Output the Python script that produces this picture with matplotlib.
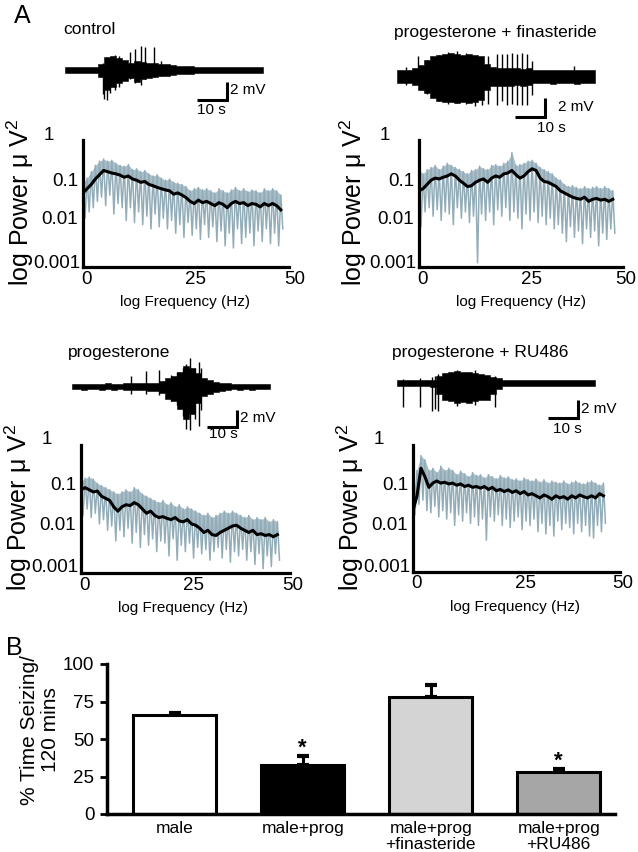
import numpy as np
import matplotlib.pyplot as plt

plt.rcParams['font.family'] = ['Liberation Sans', 'DejaVu Sans']
plt.rcParams['mathtext.fontset'] = 'custom'
plt.rcParams['mathtext.rm'] = 'Liberation Sans'

W, H = 638, 852

# ---- panel A: spectra, log10 power read at 1 Hz steps ----
ctrl_black = [-1.25, -1.15, -1.05, -0.92, -0.82, -0.72, -0.75, -0.78, -0.8, -0.83,
              -0.88, -0.85, -0.92, -0.95, -1.0, -0.98, -1.05, -1.08, -1.12, -1.15,
              -1.18, -1.2, -1.28, -1.25, -1.3, -1.36, -1.45, -1.5, -1.42, -1.48,
              -1.45, -1.5, -1.55, -1.48, -1.52, -1.6, -1.5, -1.45, -1.5, -1.48,
              -1.55, -1.5, -1.52, -1.58, -1.5, -1.55, -1.5, -1.55, -1.65]
ctrl_top = [-1.0, -0.9, -0.75, -0.6, -0.5, -0.45, -0.5, -0.48, -0.55, -0.6,
            -0.62, -0.58, -0.7, -0.68, -0.75, -0.72, -0.8, -0.85, -0.82, -0.9,
            -0.95, -0.92, -1.0, -1.02, -1.05, -1.1, -1.2, -1.15, -1.12, -1.18,
            -1.15, -1.2, -1.25, -1.15, -1.2, -1.25, -1.18, -1.12, -1.2, -1.15,
            -1.22, -1.18, -1.2, -1.25, -1.15, -1.2, -1.15, -1.2, -1.3]
ctrl_dip = [-1.85, -1.7, -1.6, -1.45, -1.35, -1.55, -1.3, -1.75, -1.5, -1.6,
            -1.9, -1.6, -1.95, -1.7, -2.0, -1.8, -2.1, -1.75, -2.05, -1.85,
            -2.1, -1.9, -2.2, -2.0, -2.3, -1.95, -2.25, -2.1, -2.35, -2.0,
            -2.3, -2.05, -2.4, -2.15, -2.5, -2.2, -2.55, -2.1, -2.45, -2.3,
            -2.2, -2.5, -2.15, -2.4, -2.1, -2.45, -2.2, -2.5, -2.1]

fin_black = [-1.2, -1.15, -1.05, -0.95, -0.9, -0.92, -0.88, -0.85, -0.8, -0.85,
             -0.95, -1.02, -1.1, -1.08, -1.0, -0.95, -0.92, -1.0, -0.9, -0.85,
             -0.88, -0.8, -0.78, -0.72, -0.82, -0.9, -0.85, -0.75, -0.68, -0.72,
             -0.9, -0.98, -1.0, -1.05, -1.1, -1.2, -1.25, -1.3, -1.35, -1.38,
             -1.4, -1.35, -1.45, -1.4, -1.38, -1.42, -1.4, -1.45, -1.4]
fin_top = [-0.7, -0.8, -0.7, -0.65, -0.6, -0.7, -0.62, -0.55, -0.6, -0.65,
           -0.7, -0.75, -0.8, -0.72, -0.7, -0.62, -0.68, -0.7, -0.6, -0.58,
           -0.62, -0.55, -0.5, -0.3, -0.6, -0.58, -0.55, -0.5, -0.48, -0.55,
           -0.65, -0.7, -0.75, -0.8, -0.9, -0.95, -1.05, -1.1, -1.08, -1.12,
           -1.15, -1.1, -1.15, -1.12, -1.1, -1.15, -1.1, -1.15, -1.2]
fin_dip = [-2.05, -1.7, -1.6, -1.8, -1.65, -1.9, -1.7, -1.75, -2.0, -1.6,
           -1.85, -1.7, -1.95, -1.8, -2.9, -1.75, -1.9, -1.7, -2.0, -1.65,
           -1.8, -1.6, -1.9, -1.7, -1.85, -2.1, -1.75, -1.9, -1.7, -1.95,
           -1.8, -2.0, -1.85, -2.1, -2.0, -2.2, -2.4, -2.05, -2.3, -2.15,
           -2.45, -2.1, -2.3, -2.15, -2.5, -2.2, -2.35, -2.1, -2.2]

prog_black = [-1.05, -1.0, -1.05, -1.1, -1.08, -1.2, -1.25, -1.3, -1.45, -1.55,
              -1.45, -1.4, -1.42, -1.35, -1.4, -1.5, -1.6, -1.55, -1.65, -1.7,
              -1.68, -1.72, -1.75, -1.7, -1.78, -1.8, -1.75, -1.85, -1.88, -1.95,
              -2.05, -2.0, -2.1, -2.12, -2.05, -2.0, -1.95, -1.9, -1.88, -1.95,
              -2.0, -2.05, -2.0, -2.1, -2.08, -2.12, -2.1, -2.15, -2.1]
prog_top = [-0.85, -0.78, -0.75, -0.8, -0.9, -0.95, -1.0, -1.05, -1.1, -1.15,
            -1.1, -1.05, -1.1, -1.0, -1.05, -1.15, -1.2, -1.25, -1.3, -1.35,
            -1.3, -1.4, -1.35, -1.45, -1.4, -1.5, -1.45, -1.5, -1.55, -1.6,
            -1.65, -1.6, -1.7, -1.65, -1.6, -1.55, -1.6, -1.55, -1.6, -1.65,
            -1.7, -1.65, -1.75, -1.7, -1.75, -1.7, -1.8, -1.75, -1.8]
prog_dip = [-1.65, -1.5, -1.7, -1.6, -1.85, -1.75, -2.0, -1.9, -2.25, -2.0,
            -2.15, -1.95, -2.3, -2.05, -2.4, -2.1, -2.35, -2.2, -2.5, -2.25,
            -2.3, -2.6, -2.2, -2.7, -2.35, -2.5, -2.3, -2.65, -2.4, -2.55,
            -2.45, -2.7, -2.5, -2.4, -2.65, -2.45, -2.75, -2.5, -2.6, -2.45,
            -2.7, -2.5, -2.8, -2.55, -2.9, -2.6, -2.85, -2.55, -2.7]

ru_black = [-1.55, -1.2, -0.55, -0.75, -1.0, -0.9, -0.85, -0.9, -0.88, -0.92,
            -0.9, -0.95, -0.92, -0.98, -0.95, -1.0, -0.98, -1.02, -0.98, -1.05,
            -1.0, -1.08, -1.05, -1.1, -1.06, -1.12, -1.08, -1.15, -1.1, -1.18,
            -1.15, -1.2, -1.25, -1.18, -1.22, -1.28, -1.2, -1.25, -1.22, -1.28,
            -1.2, -1.25, -1.18, -1.22, -1.25, -1.2, -1.25, -1.15, -1.2]
ru_top = [-1.3, -0.6, -0.25, -0.35, -0.6, -0.55, -0.65, -0.5, -0.6, -0.55,
          -0.6, -0.7, -0.62, -0.68, -0.75, -0.65, -0.72, -0.7, -0.78, -0.7,
          -0.75, -0.8, -0.72, -0.78, -0.75, -0.82, -0.8, -0.85, -0.78, -0.82,
          -0.85, -0.8, -0.88, -0.82, -0.9, -0.85, -0.88, -0.9, -0.85, -0.92,
          -0.88, -0.85, -0.9, -0.92, -0.88, -0.85, -0.9, -0.95, -0.9]
ru_dip = [-1.65, -1.4, -1.3, -1.55, -1.6, -1.45, -1.7, -1.55, -1.75, -1.6,
          -1.9, -1.65, -1.8, -1.6, -1.85, -1.7, -1.9, -1.75, -2.25, -1.7,
          -1.8, -1.65, -1.9, -1.75, -1.95, -1.8, -1.7, -2.0, -1.8, -1.9,
          -1.75, -2.05, -1.85, -2.1, -1.9, -2.15, -1.8, -2.0, -1.85, -1.95,
          -2.1, -1.85, -2.05, -1.9, -2.15, -2.2, -1.9, -2.05, -1.85]

spec_fmax = [48, 47.5, 47, 46]

# ---- panel A: EEG traces, envelope in mV every 2 s (0..66 s) ----
trace_t = list(range(0, 67, 2))
ctrl_hi = [0.3, 0.35, 0.28, 0.32, 0.3, 0.34,
           0.6, 1.4, 1.5, 1.3, 1.1, 0.8, 1.0, 0.9, 0.8, 0.8,
           0.7, 0.6, 0.5, 0.45, 0.4, 0.4, 0.33, 0.3, 0.35, 0.3,
           0.32, 0.28, 0.35, 0.3, 0.33, 0.3, 0.35, 0.3]
ctrl_lo = [-0.3, -0.32, -0.35, -0.28, -0.3, -0.33,
           -0.8, -2.2, -1.8, -1.4, -1.2, -0.9, -1.3, -1.0, -0.9, -0.8,
           -0.6, -0.6, -0.5, -0.45, -0.4, -0.4, -0.35, -0.3, -0.32, -0.3,
           -0.35, -0.3, -0.28, -0.33, -0.3, -0.35, -0.3, -0.32]
fin_hi = [0.7, 0.75, 0.7, 0.9, 1.3, 1.8, 2.2, 2.4, 2.5, 2.6, 2.5, 2.4, 2.5, 2.4, 2.2, 1.4,
          1.0, 0.9, 0.9, 0.95, 0.9, 0.85, 0.9,
          0.7, 0.75, 0.7, 0.72, 0.7, 0.75, 0.7, 0.7, 0.75, 0.7, 0.7]
fin_lo = [-0.7, -0.72, -0.7, -0.9, -1.4, -1.8, -2.3, -2.6, -2.7, -2.8, -2.9, -2.8, -2.9, -2.7, -2.5, -1.5,
          -1.0, -1.0, -1.05, -1.0, -0.95, -1.0, -0.9,
          -0.7, -0.72, -0.7, -0.75, -0.7, -0.72, -0.7, -0.75, -0.7, -0.72, -0.7]
prog_hi = [0.3, 0.32, 0.28, 0.3, 0.33, 0.3, 0.35, 0.3, 0.32,
           0.35, 0.4, 0.35, 0.4, 0.4, 0.45, 0.6, 1.0, 1.2,
           1.6, 2.2, 2.0, 1.5, 0.9, 0.7, 0.5, 0.45, 0.4,
           0.3, 0.32, 0.3, 0.28, 0.3, 0.32, 0.3]
prog_lo = [-0.3, -0.28, -0.32, -0.3, -0.3, -0.33, -0.3, -0.35, -0.3,
           -0.35, -0.4, -0.38, -0.4, -0.42, -0.5, -0.7, -1.3, -1.6,
           -2.4, -3.5, -3.0, -1.8, -1.0, -0.8, -0.6, -0.45, -0.4,
           -0.3, -0.33, -0.3, -0.32, -0.3, -0.28, -0.3]
ru_hi = [0.3, 0.32, 0.3, 0.35, 0.3, 0.32, 0.35,
         0.8, 1.1, 1.2, 1.3, 1.2, 1.25, 1.1, 1.0, 0.9, 0.7, 0.5,
         0.35, 0.3, 0.32, 0.3, 0.28, 0.3, 0.33, 0.3, 0.3, 0.32, 0.3, 0.28, 0.3, 0.32, 0.3, 0.3]
ru_lo = [-0.3, -0.35, -0.3, -0.32, -0.3, -0.35, -0.4,
         -1.2, -1.8, -2.0, -2.2, -2.1, -2.2, -2.0, -1.9, -1.8, -1.2, -0.6,
         -0.35, -0.3, -0.32, -0.3, -0.3, -0.33, -0.3, -0.28, -0.3, -0.32, -0.3, -0.3, -0.33, -0.3, -0.3, -0.3]

# isolated spikes: time (s), low and high (mV)
ctrl_spk_t = [12.5, 13, 14, 15, 16.5, 18, 21.5, 23.2, 25.3, 26.8, 29.8, 32]
ctrl_spk_lo = [-2.6, -3.2, -3.3, -2.5, -2.2, -1.9, -1.0, -1.4, -1.6, -1.0, -0.8, -0.6]
ctrl_spk_hi = [0.8, 0.5, 1.0, 1.2, 1.6, 1.5, 2.0, 2.3, 2.6, 2.5, 2.5, 1.0]
fin_spk_t = [3, 7.2, 10, 14, 17, 20, 23, 26, 28.3, 30.5, 33.3, 35, 36.7, 38.3, 40, 41.7, 43.3, 45, 59]
fin_spk_lo = [-0.9, -0.7, -1.9, -2.6, -3.0, -2.9, -3.0, -3.2, -3.1, -3.0, -3.1, -2.6, -3.1, -3.0,
              -3.1, -3.1, -3.1, -2.0, -0.7]
fin_spk_hi = [1.0, 2.3, 1.8, 2.4, 2.7, 2.8, 2.6, 1.5, 1.5, 2.2, 2.5, 2.5, 2.5, 2.6, 2.5, 2.6, 2.5, 1.7, 1.2]
prog_spk_t = [19.8, 24.8, 29, 33, 35, 37, 38.2, 39.4, 41, 42.5, 43.2]
prog_spk_lo = [-0.8, -0.8, -0.9, -1.6, -2.0, -3.2, -4.6, -4.7, -3.5, -4.3, -2.5]
prog_spk_hi = [1.2, 1.7, 1.8, 1.3, 1.6, 2.0, 2.5, 3.1, 2.0, 2.7, 2.0]
ru_spk_t = [2, 7.7, 11.7, 12.7, 13.7, 20, 26, 32.7]
ru_spk_lo = [-2.6, -2.6, -3.0, -2.8, -3.0, -2.5, -2.4, -2.6]
ru_spk_hi = [0.4, 0.5, 0.6, 0.8, 1.0, 1.4, 1.4, 0.8]

# ---- panel B ----
groups = ['male', 'male+prog', 'male+prog\n+finasteride', 'male+prog\n+RU486']
seizing = [66, 33, 78, 28]
seizing_err = [1.5, 6, 8, 2]
bar_colors = ['white', 'black', '#d4d4d4', '#a6a6a6']
signif = [False, True, False, True]

GREY = '#93adb8'
GREY_FILL = '#a9bec8'

fig = plt.figure(figsize=(W / 100, H / 100), dpi=100)


def px_axes(left, top, right, bottom):
    return fig.add_axes([left / W, 1 - bottom / H, (right - left) / W, (bottom - top) / H])


def ftext(x, y, s, **kw):
    fig.text(x / W, 1 - y / H, s, **kw)


def trace(x0, y0, hi, lo, spk_t, spk_lo, spk_hi, bar_t, bar_top, bar_bot, mv_xy, s_xy):
    # 1 s = 3 px, 1 mV = 9.2 px
    ax = px_axes(x0 - 6, y0 - 5 * 9.2, x0 + 72 * 3, y0 + 6.5 * 9.2)
    ax.set_xlim(-2, 72)
    ax.set_ylim(-6.5, 5)
    ax.axis('off')
    ax.fill_between(trace_t, lo, hi, step='mid', color='black', lw=0.4)
    ax.vlines(spk_t, spk_lo, spk_hi, color='black', lw=1.0)
    ax.plot([bar_t - 10, bar_t, bar_t], [bar_bot, bar_bot, bar_top], color='black',
            lw=2.2, solid_joinstyle='miter', solid_capstyle='butt')
    ax.text(mv_xy[0], mv_xy[1], '2 mV', fontsize=11, ha='left', va='center')
    ax.text(s_xy[0], s_xy[1], '10 s', fontsize=11, ha='center', va='center')


def spectrum(left, top, right, bottom, fmax, black, top_vals, dip_vals, ylab_x, x50):
    ax = px_axes(left, top, right, bottom)
    f = np.linspace(0, fmax, len(black))
    half = (f[1] - f[0]) / 2
    blk = 10 ** np.array(black)
    ax.fill_between(f, blk, 10 ** np.array(top_vals), color=GREY_FILL, lw=0)
    gx = np.column_stack([f, f + half]).ravel()
    gy = np.column_stack([top_vals, dip_vals]).ravel()
    ax.plot(gx, 10 ** gy, color=GREY, lw=1.1)
    ax.plot(f, blk, color='black', lw=2.2)
    ax.set_yscale('log')
    ax.set_ylim(0.001, 1)
    ax.set_xlim(0, 50)
    ax.tick_params(which='both', left=False, bottom=False, labelleft=False, labelbottom=False)
    for s in ['top', 'right']:
        ax.spines[s].set_visible(False)
    for s in ['left', 'bottom']:
        ax.spines[s].set_linewidth(2.3)
    # tick labels as placed in the figure
    ftext(left - 34, top - 5, '1', fontsize=13.5, ha='center', va='center')
    ftext(left - 5, top + 41, '0.1', fontsize=13.5, ha='right', va='center')
    ftext(left - 5, top + 80, '0.01', fontsize=13.5, ha='right', va='center')
    ftext(left - 3, top + 123, '0.001', fontsize=13.5, ha='right', va='center')
    for dx, lab in [(4, '0'), (112, '25'), (x50, '50')]:
        ftext(left + dx, bottom + 12, lab, fontsize=13.5, ha='center', va='center')
    ftext(left + 102, bottom + 35, 'log Frequency (Hz)', fontsize=11, ha='center', va='center')
    ftext(ylab_x, top + 62, r'log Power μ V$^{\mathrm{2}}$', fontsize=18, rotation=90,
          ha='center', va='center')


ftext(22, 16, 'A', fontsize=18, ha='center', va='center')

# control
ftext(63, 29, 'control', fontsize=12.5, ha='left', va='center')
trace(65, 70, ctrl_hi, ctrl_lo, ctrl_spk_t, ctrl_spk_lo, ctrl_spk_hi,
      53.9, -1.27, -3.26, (55, -2.2), (48.9, -4.35))
spectrum(83, 140, 289, 267, spec_fmax[0], ctrl_black, ctrl_top, ctrl_dip, 20, 212)

# progesterone + finasteride
ftext(495, 32, 'progesterone + finasteride', fontsize=12.5, ha='center', va='center')
trace(396.7, 76.7, fin_hi, fin_lo, fin_spk_t, fin_spk_lo, fin_spk_hi,
      49.4, -2.35, -4.35, (53.8, -3.3), (51.5, -5.6))
spectrum(419, 140, 623, 267, spec_fmax[1], fin_black, fin_top, fin_dip, 353, 207)

# progesterone
ftext(68, 353, 'progesterone', fontsize=12.5, ha='left', va='center')
trace(71.7, 386.7, prog_hi, prog_lo, prog_spk_t, prog_spk_lo, prog_spk_hi,
      55, -2.53, -4.35, (56, -3.4), (50.5, -5.1))
spectrum(81, 445, 290, 573, spec_fmax[2], prog_black, prog_top, prog_dip, 18, 212)

# progesterone + RU486
ftext(480, 353, 'progesterone + RU486', fontsize=12.5, ha='center', va='center')
trace(397, 383, ru_hi, ru_lo, ru_spk_t, ru_spk_lo, ru_spk_hi,
      60.3, -1.9, -3.8, (61.3, -2.8), (56.7, -5.0))
spectrum(413, 445, 620, 572, spec_fmax[3], ru_black, ru_top, ru_dip, 350, 210)

# ---- panel B: bar chart ----
ftext(14, 648, 'B', fontsize=18, ha='center', va='center')
axb = px_axes(107, 664, 615, 814)
xb = np.arange(len(groups))
axb.bar(xb, seizing, width=0.65, color=bar_colors, edgecolor='black', linewidth=2.2, zorder=2)
axb.errorbar(xb, seizing, yerr=[np.zeros(len(xb)), seizing_err], fmt='none', ecolor='black',
             elinewidth=2.2, capsize=4, capthick=3, zorder=1)
for i, s in enumerate(signif):
    if s:
        axb.text(xb[i], seizing[i] + seizing_err[i] + 5, '*', fontsize=16, ha='center',
                 va='center', fontweight='bold')
axb.set_xlim(-0.53, 3.44)
axb.set_ylim(0, 100)
axb.set_yticks([0, 25, 50, 75, 100])
axb.set_yticklabels(['0', '25', '50', '75', '100'], fontsize=13.5)
axb.set_xticks(xb)
axb.set_xticklabels(groups, fontsize=12.5, linespacing=1.05)
axb.tick_params(axis='x', length=0, pad=5)
axb.tick_params(axis='y', length=5, width=2, direction='out', pad=4)
for s in ['top', 'right']:
    axb.spines[s].set_visible(False)
for s in ['left', 'bottom']:
    axb.spines[s].set_linewidth(2.5)
ftext(40, 730, '% Time Seizing/\n120 mins', fontsize=15, rotation=90, ha='center',
      va='center', linespacing=1.15)

fig.savefig('out.png', dpi=100, facecolor='white')
